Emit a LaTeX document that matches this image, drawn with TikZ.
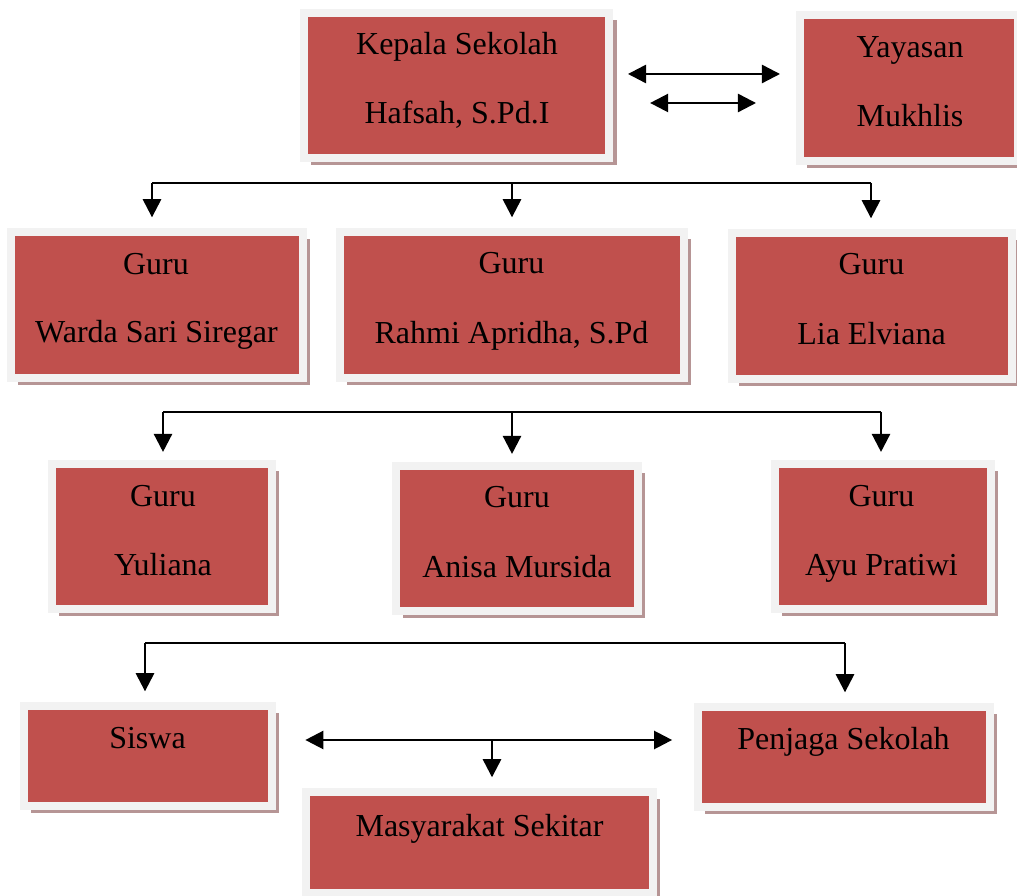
\documentclass[tikz,border=0pt]{standalone}
\usepackage{fontspec}
\setmainfont{Liberation Serif}
\usetikzlibrary{arrows.meta,shadows}
\definecolor{boxred}{HTML}{C0504D}
\definecolor{framegray}{HTML}{F2F2F2}
\definecolor{shadowred}{HTML}{B69595}
\tikzset{
  box/.style={fill=boxred, draw=framegray, line width=3pt, inner sep=0pt,
    drop shadow={shadow xshift=2.8pt, shadow yshift=-2.8pt, fill=shadowred, opacity=1}},
  lbl/.style={font=\fontsize{12}{14}\selectfont, inner sep=0pt, anchor=base},
  link/.style={line width=0.9pt},
  arr/.style={link, -{Triangle[length=6.8pt,width=6.8pt]}, shorten >=4pt},
  dbl/.style={link, {Triangle[length=6.8pt,width=6.8pt]}-{Triangle[length=6.8pt,width=6.8pt]}}
}
\begin{document}
\begin{tikzpicture}[x=0.375pt,y=-0.375pt]
\useasboundingbox (0,0) rectangle (1017,896);
% boxes
\node[box, minimum width=114.4pt, minimum height=54.4pt] (kepala) at (456.5,85.5) {};
\node[box, minimum width=81.75pt, minimum height=54.75pt] (yayasan) at (909,88) {};
\node[box, minimum width=109.5pt, minimum height=54.75pt] (warda) at (157,305) {};
\node[box, minimum width=129pt, minimum height=54.75pt] (rahmi) at (512,305) {};
\node[box, minimum width=105pt, minimum height=54.75pt] (lia) at (872,306) {};
\node[box, minimum width=82.5pt, minimum height=54.4pt] (yuliana) at (162,536.5) {};
\node[box, minimum width=90.75pt, minimum height=54.4pt] (anisa) at (517,538.5) {};
\node[box, minimum width=81pt, minimum height=54.4pt] (ayu) at (883,536.5) {};
\node[box, minimum width=93pt, minimum height=37.5pt] (siswa) at (148,756) {};
\node[box, minimum width=109.5pt, minimum height=37.5pt] (penjaga) at (844,757) {};
\node[box, minimum width=130pt, minimum height=37.9pt] (masyarakat) at (479.5,842.5) {};
% texts
\node[lbl] (kepala-a) at (457,55) {Kepala Sekolah};
\node[lbl] (kepala-b) at (457,124) {Hafsah, S.Pd.I};
\node[lbl] (yayasan-a) at (910,58) {Yayasan};
\node[lbl] (yayasan-b) at (910,127) {Mukhlis};
\node[lbl] (warda-a) at (156,275) {Guru};
\node[lbl] (warda-b) at (156.5,343) {Warda Sari Siregar};
\node[lbl] (rahmi-a) at (511.5,274) {Guru};
\node[lbl] (rahmi-b) at (511.5,344) {Rahmi Apridha, S.Pd};
\node[lbl] (lia-a) at (871.5,275) {Guru};
\node[lbl] (lia-b) at (871.5,345) {Lia Elviana};
\node[lbl] (yuliana-a) at (163,507) {Guru};
\node[lbl] (yuliana-b) at (163,576) {Yuliana};
\node[lbl] (anisa-a) at (517,508) {Guru};
\node[lbl] (anisa-b) at (517,578) {Anisa Mursida};
\node[lbl] (ayu-a) at (881.5,507) {Guru};
\node[lbl] (ayu-b) at (881.5,576) {Ayu Pratiwi};
\node[lbl] (siswa-a) at (147.5,749) {Siswa};
\node[lbl] (penjaga-a) at (843.5,750) {Penjaga Sekolah};
\node[lbl] (masyarakat-a) at (479.5,837) {Masyarakat Sekitar};
% kepala - yayasan
\draw[dbl, shorten <=5.6pt, shorten >=6pt] (kepala.east |- 0,74) -- (yayasan.west |- 0,74);
\draw[dbl, shorten <=13.9pt, shorten >=15pt] (kepala.east |- 0,103) -- (yayasan.west |- 0,103);
% row 2
\coordinate (r2a) at (152,183);
\coordinate (r2b) at (512,183);
\coordinate (r2c) at (871,183);
\draw[link] (r2a) -- (r2c);
\draw[arr] (r2a) -- (r2a |- warda.north);
\draw[arr] (r2b) -- (r2b |- rahmi.north);
\draw[arr] (r2c) -- (r2c |- lia.north);
% row 3
\coordinate (r3a) at (163,412);
\coordinate (r3b) at (512,412);
\coordinate (r3c) at (881,412);
\draw[link] (r3a) -- (r3c);
\draw[arr, shorten >=3pt] (r3a) -- (r3a |- yuliana.north);
\draw[arr, shorten >=3pt] (r3b) -- (r3b |- anisa.north);
\draw[arr, shorten >=3pt] (r3c) -- (r3c |- ayu.north);
% row 4
\coordinate (r4a) at (145,643);
\coordinate (r4b) at (845,643);
\draw[link] (r4a) -- (r4b);
\draw[arr] (r4a) -- (r4a |- siswa.north);
\draw[arr] (r4b) -- (r4b |- penjaga.north);
\coordinate (r4m) at (492,740);
\draw[dbl, shorten <=11pt, shorten >=8.2pt] (siswa.east |- r4m) -- (penjaga.west |- r4m);
\draw[arr] (r4m) -- (r4m |- masyarakat.north);
\end{tikzpicture}
\end{document}
